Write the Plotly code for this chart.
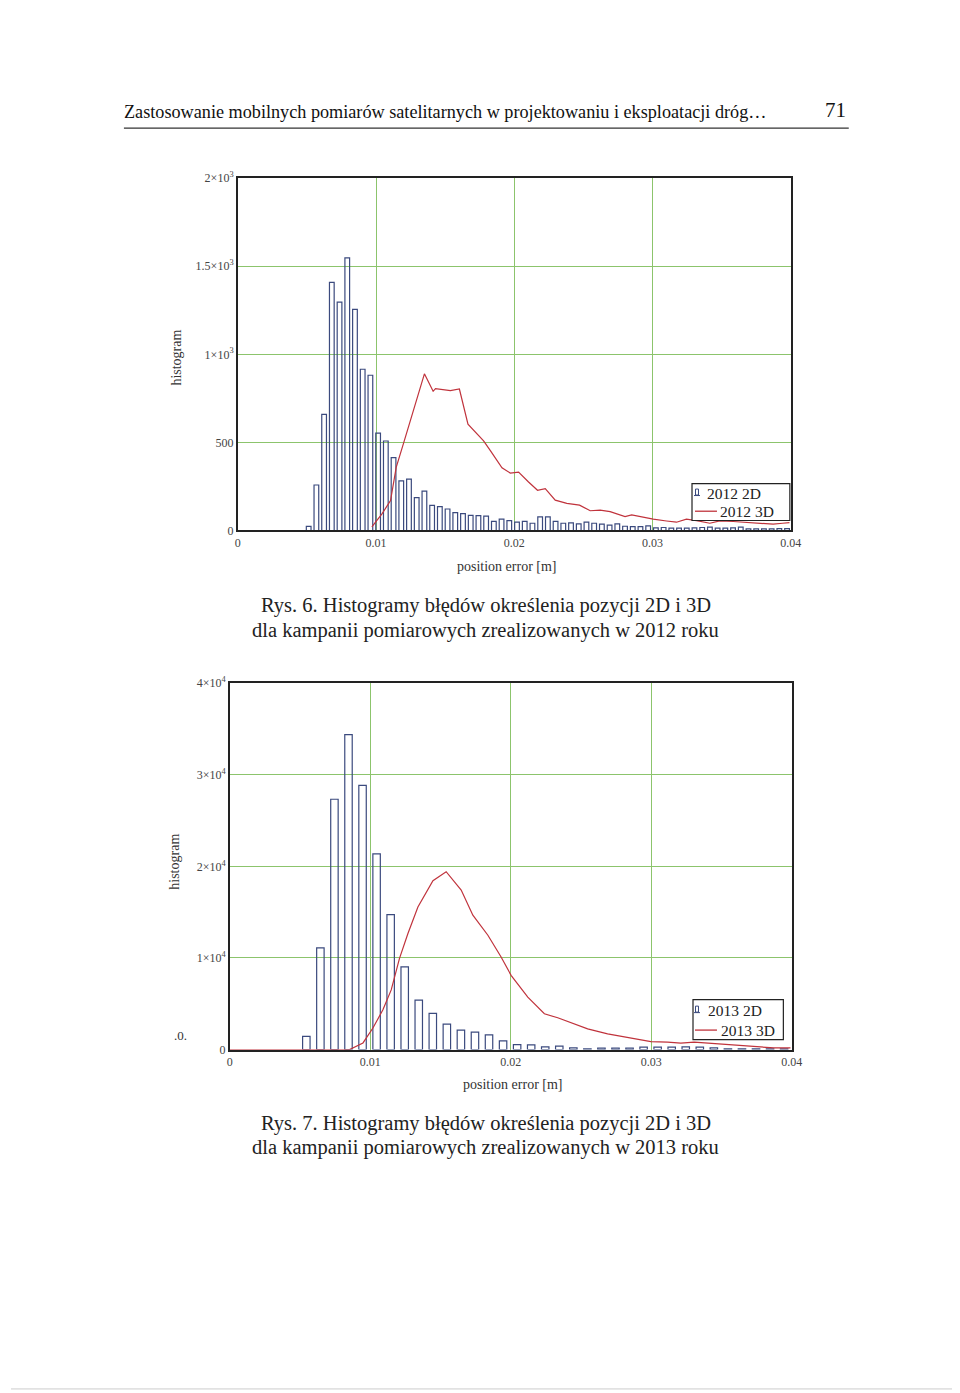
import plotly.graph_objects as go

W, H = 960, 1393
# measured placement of the rendered figure inside the photographed page
SX, OX = 0.987, 9.9
SY, OY = 0.991, 14.6

# ---------------- data ----------------
# 2012 2D histogram (bin centres start / step, counts)
bins12_start = 0.00513
bins12_step = 0.000558
hist12_2d = [23, 258, 659, 1408, 1296, 1547, 1255, 915, 881, 553, 508, 413, 281, 291, 187, 223,
             142, 135, 122, 101, 96, 86, 84, 82, 52, 64, 56, 47, 52, 41, 77, 77, 52, 41, 43, 37,
             47, 41, 36, 30, 37, 24, 22, 22, 26, 15, 17, 13, 13, 13, 15, 17, 19, 13, 13, 15, 19,
             9, 9, 9, 9, 11, 11]
x12_3d = [0.0097, 0.01043, 0.01105, 0.01146, 0.01201, 0.0135, 0.01413, 0.0143, 0.01538, 0.01603,
          0.01665, 0.01718, 0.01778, 0.01827, 0.01911, 0.01971, 0.02031, 0.02103, 0.02168, 0.02224,
          0.02296, 0.0238, 0.02472, 0.02549, 0.02621, 0.02693, 0.02801, 0.02849, 0.02921, 0.03005,
          0.03101, 0.03173, 0.03245, 0.03318, 0.03414, 0.03487, 0.03583, 0.0368, 0.03776, 0.03872,
          0.0394, 0.0399]
y12_3d = [20, 94, 170, 358, 500, 889, 790, 805, 794, 803,
          603, 556, 509, 453, 356, 326, 331, 275, 228, 238,
          172, 154, 144, 112, 116, 107, 79, 88, 75, 64,
          54, 47, 64, 56, 41, 54, 51, 45, 41, 36,
          41, 45]

# 2013
bins13_start = 0.00545
bins13_step = 0.001
hist13_2d = [1448, 11113, 27331, 34390, 28851, 21358, 14733, 9030, 5400,
             3942, 2774, 2117, 1898, 1606, 949, 548, 511, 292, 365,
             183, 73, 146, 146, 146, 256, 256, 256, 292, 256,
             183, 73, 73, 73, 73, 73]
x13_3d = [0, 0.00853, 0.00948, 0.01019, 0.0109, 0.01149, 0.01208, 0.01268, 0.01339, 0.01398, 0.01446,
          0.0154, 0.01647, 0.0173, 0.01837, 0.01931, 0.02002, 0.02121, 0.02239, 0.02334, 0.02452,
          0.02547, 0.02689, 0.02832, 0.02997, 0.03116, 0.0321, 0.03305, 0.034, 0.03589, 0.03779,
          0.03873, 0.0399]
y13_3d = [0, 0, 724, 2353, 4344, 6516, 9955, 12670, 15566, 17195, 18433,
          19418, 17411, 14673, 12483, 10111, 8103, 5731, 3906, 3468, 2811,
          2263, 1716, 1351, 876, 803, 694, 803, 694, 548, 329,
          183, 183]

series12 = ["2012 2D", "2012 3D"]
series13 = ["2013 2D", "2013 3D"]

xtick_vals = [0, 0.01, 0.02, 0.03, 0.04]
xtick_text = ["0", "0.01", "0.02", "0.03", "0.04"]
ytick12_vals = [0, 500, 1000, 1500, 2000]
ytick12_text = ["0", "500", "1×10<sup>3</sup>", "1.5×10<sup>3</sup>", "2×10<sup>3</sup>"]
ytick13_vals = [0, 10000, 20000, 30000, 40000]
ytick13_text = ["0", "1×10<sup>4</sup>", "2×10<sup>4</sup>", "3×10<sup>4</sup>", "4×10<sup>4</sup>"]

header = "Zastosowanie mobilnych pomiarów satelitarnych w projektowaniu i eksploatacji dróg…"
page_no = "71"
cap6 = ["Rys. 6. Histogramy błędów określenia pozycji 2D i 3D",
        "dla kampanii pomiarowych zrealizowanych w 2012 roku"]
cap7 = ["Rys. 7. Histogramy błędów określenia pozycji 2D i 3D",
        "dla kampanii pomiarowych zrealizowanych w 2013 roku"]

# ---------------- styling ----------------
FONT = "Liberation Serif"
BAR_LINE = "#3b4a7e"
RED = "#c0333c"
GRID = "#8cc46c"

x12 = [round(bins12_start + i * bins12_step, 6) for i in range(len(hist12_2d))]
x13 = [round(bins13_start + i * bins13_step, 6) for i in range(len(hist13_2d))]

def px(x):
    return ((x - OX) / SX) / W

def py(y):
    return 1 - ((y - OY) / SY) / H

fig = go.Figure()
fig.add_trace(go.Bar(x=x12, y=hist12_2d, width=0.00034, name=series12[0], showlegend=False,
                     marker=dict(color="rgba(255,255,255,0)", line=dict(color=BAR_LINE, width=1.2)),
                     xaxis="x", yaxis="y"))
fig.add_trace(go.Scatter(x=x12_3d, y=y12_3d, mode="lines", name=series12[1], showlegend=False,
                         line=dict(color=RED, width=1.2), xaxis="x", yaxis="y"))
fig.add_trace(go.Bar(x=x13, y=hist13_2d, width=0.00053, name=series13[0], showlegend=False,
                     marker=dict(color="rgba(255,255,255,0)", line=dict(color=BAR_LINE, width=1.2)),
                     xaxis="x2", yaxis="y2"))
fig.add_trace(go.Scatter(x=x13_3d, y=y13_3d, mode="lines", name=series13[1], showlegend=False,
                         line=dict(color=RED, width=1.2), xaxis="x2", yaxis="y2"))

axis_common = dict(showline=True, linecolor="#222", linewidth=1.5, mirror=True,
                   showgrid=True, gridcolor=GRID, gridwidth=1, zeroline=False,
                   ticks="", tickfont=dict(family=FONT, size=12, color="#444"))

fig.update_layout(
    width=W, height=H,
    margin=dict(l=0, r=0, t=0, b=0),
    paper_bgcolor="white", plot_bgcolor="white",
    font=dict(family=FONT, color="#222"),
    barmode="overlay",
    xaxis=dict(domain=[px(237), px(791)], range=[0, 0.04], anchor="y",
               tickvals=xtick_vals, ticktext=xtick_text, **axis_common),
    yaxis=dict(domain=[py(530), py(177)], range=[0, 2000], anchor="x",
               tickvals=ytick12_vals, ticktext=ytick12_text, **axis_common),
    xaxis2=dict(domain=[px(229), px(792)], range=[0, 0.04], anchor="y2",
                tickvals=xtick_vals, ticktext=xtick_text, **axis_common),
    yaxis2=dict(domain=[py(1050), py(683)], range=[0, 40000], anchor="x2",
                tickvals=ytick13_vals, ticktext=ytick13_text, **axis_common),
)

ann = []
shapes = []


def txt(x, y, text, size, xanchor="center", color="#222", angle=0):
    ann.append(dict(x=px(x), y=py(y), text=text, xanchor=xanchor, yanchor="middle",
                    textangle=angle, font=dict(family=FONT, size=size, color=color),
                    xref="paper", yref="paper", showarrow=False))


txt(121, 111, header, 18.2, xanchor="left", color="#111")
txt(848, 109, page_no, 21, xanchor="right", color="#111")
# axis titles
txt(176, 357, "histogram", 14, color="#333", angle=-90)
txt(507, 566, "position error [m]", 14, color="#333")
txt(174, 862, "histogram", 14, color="#333", angle=-90)
txt(513, 1085, "position error [m]", 14, color="#333")
txt(180, 1036, ".0.", 13, color="#333")
# captions
for i, t in enumerate(cap6):
    txt(485.5, 605 + 25 * i, t, 20.5)
for i, t in enumerate(cap7):
    txt(485.5, 1124 + 24 * i, t, 20.5)


def legend_box(x0, x1, y0, y1, names, y_rows, bar_icon, line_x, text_x):
    shapes.append(dict(type="rect", xref="paper", yref="paper",
                       x0=px(x0), x1=px(x1), y0=py(y1), y1=py(y0),
                       fillcolor="white", line=dict(color="#222", width=1.2), layer="above"))
    bx0, bx1, by0, by1 = bar_icon
    shapes.append(dict(type="rect", xref="paper", yref="paper",
                       x0=px(bx0), x1=px(bx1), y0=py(by1), y1=py(by0),
                       fillcolor="white", line=dict(color=BAR_LINE, width=1), layer="above"))
    shapes.append(dict(type="line", xref="paper", yref="paper",
                       x0=px(bx0 - 1.5), x1=px(bx1 + 1.5), y0=py(by1 + 0.5), y1=py(by1 + 0.5),
                       line=dict(color=BAR_LINE, width=1), layer="above"))
    shapes.append(dict(type="line", xref="paper", yref="paper",
                       x0=px(line_x[0]), x1=px(line_x[1]), y0=py(y_rows[1]), y1=py(y_rows[1]),
                       line=dict(color=RED, width=1.3), layer="above"))
    txt(text_x[0], y_rows[0], names[0], 15.5, xanchor="left")
    txt(text_x[1], y_rows[1], names[1], 15.5, xanchor="right")


legend_box(692, 790, 483, 520, series12, (492.5, 510.7), (695.5, 698.5, 488.5, 494.5),
           (695, 717), (705.5, 776))
legend_box(693, 783.5, 1000, 1040, series13, (1010.5, 1030.5), (695.5, 698.5, 1006.5, 1012.5),
           (695, 717), (706, 777.5))

shapes.append(dict(type="line", xref="paper", yref="paper", x0=px(123), x1=px(849),
                   y0=py(127), y1=py(127), line=dict(color="#333", width=1.2)))
shapes.append(dict(type="line", xref="paper", yref="paper", x0=0, x1=1,
                   y0=py(1390), y1=py(1390), line=dict(color="#ccc", width=1)))

fig.update_layout(annotations=ann, shapes=shapes)

fig.write_html("out.html")
